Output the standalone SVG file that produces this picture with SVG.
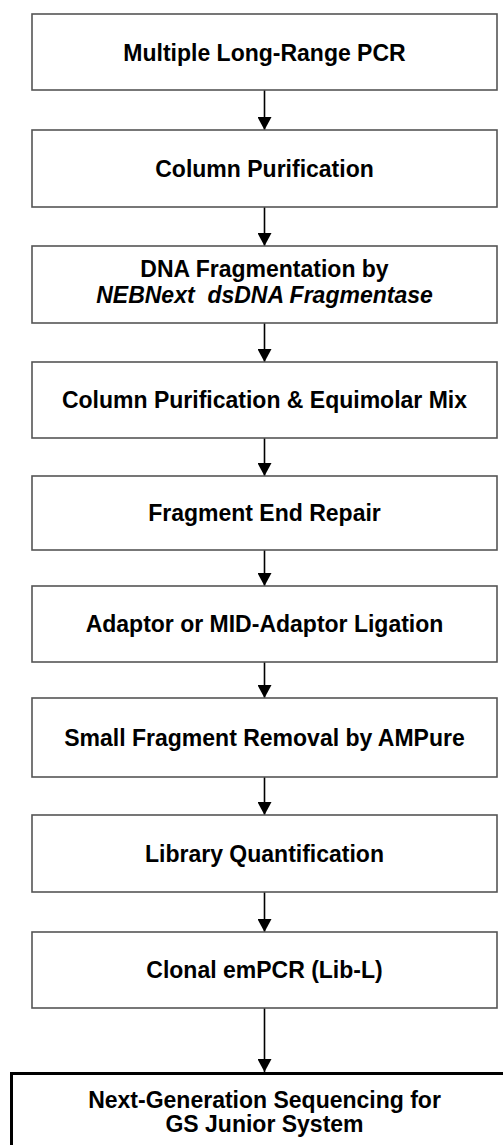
<svg xmlns="http://www.w3.org/2000/svg" width="503" height="1145" viewBox="0 0 503 1145">
<defs>
<marker id="ah" markerWidth="13" markerHeight="14" refX="13" refY="7" orient="auto" markerUnits="userSpaceOnUse">
<path d="M0,0 L13,7 L0,14 Z" fill="#000"/>
</marker>
<style>
.box{fill:#fff;stroke:#555;stroke-width:1.6}
.final{fill:#fff;stroke:#000;stroke-width:3}
.t{font-family:"Liberation Sans",Arial,sans-serif;font-weight:bold;font-size:23px;fill:#000;text-anchor:middle}
.it{font-style:italic}
.c{stroke:#000;stroke-width:1.6;fill:none;marker-end:url(#ah)}
</style>
</defs>
<rect width="503" height="1145" fill="#fff"/>
<g id="connectors">
<line class="c" x1="264.5" y1="90" x2="264.5" y2="130"/>
<line class="c" x1="264.5" y1="207" x2="264.5" y2="246"/>
<line class="c" x1="264.5" y1="323" x2="264.5" y2="362"/>
<line class="c" x1="264.5" y1="438" x2="264.5" y2="476"/>
<line class="c" x1="264.5" y1="550" x2="264.5" y2="586"/>
<line class="c" x1="264.5" y1="662" x2="264.5" y2="698"/>
<line class="c" x1="264.5" y1="777" x2="264.5" y2="815"/>
<line class="c" x1="264.5" y1="892" x2="264.5" y2="932"/>
<line class="c" x1="264.5" y1="1008" x2="264.5" y2="1072"/>
</g>
<g id="n1"><rect class="box" x="32" y="14" width="465" height="76"/><text class="t" x="264.5" y="61">Multiple Long-Range PCR</text></g>
<g id="n2"><rect class="box" x="32" y="130" width="465" height="77"/><text class="t" x="264.5" y="177">Column Purification</text></g>
<g id="n3"><rect class="box" x="32" y="246" width="465" height="77"/><text class="t" x="264.5" y="277">DNA Fragmentation by</text><text class="t it" x="264.5" y="303">NEBNext&#160; dsDNA Fragmentase</text></g>
<g id="n4"><rect class="box" x="32" y="362" width="465" height="76"/><text class="t" x="264.5" y="408">Column Purification &amp; Equimolar Mix</text></g>
<g id="n5"><rect class="box" x="32" y="476" width="465" height="74"/><text class="t" x="264.5" y="521">Fragment End Repair</text></g>
<g id="n6"><rect class="box" x="32" y="586" width="465" height="76"/><text class="t" x="264.5" y="632">Adaptor or MID-Adaptor Ligation</text></g>
<g id="n7"><rect class="box" x="32" y="698" width="465" height="79"/><text class="t" x="264.5" y="746">Small Fragment Removal by AMPure</text></g>
<g id="n8"><rect class="box" x="32" y="815" width="465" height="77"/><text class="t" x="264.5" y="862">Library Quantification</text></g>
<g id="n9"><rect class="box" x="32" y="932" width="465" height="76"/><text class="t" x="264.5" y="978">Clonal emPCR (Lib-L)</text></g>
<g id="n10"><rect class="final" x="11.5" y="1073.5" width="520" height="100"/><text class="t" x="264.5" y="1108">Next-Generation Sequencing for</text><text class="t" x="264.5" y="1132">GS Junior System</text></g>
</svg>
